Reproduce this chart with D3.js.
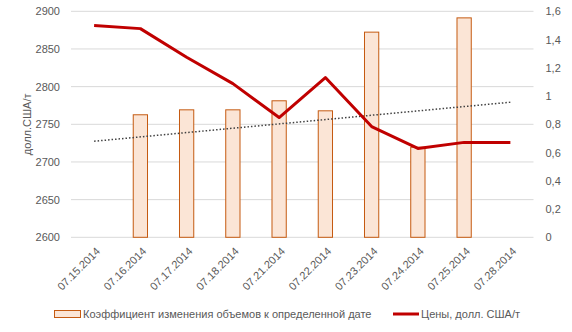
<!DOCTYPE html>
<html><head><meta charset="utf-8">
<script src="https://cdn.jsdelivr.net/npm/d3@7"></script>
<style>
body{margin:0;background:#fff;}
text{font-family:"Liberation Sans",Arial,sans-serif;fill:#595959;}
</style></head>
<body><svg id="c" width="572" height="332"></svg>
<script>
const categories = ["07.15.2014","07.16.2014","07.17.2014","07.18.2014","07.21.2014","07.22.2014","07.23.2014","07.24.2014","07.25.2014","07.28.2014"];
const coefValues = [null,0.871,0.906,0.906,0.970,0.899,1.456,0.641,1.557,null];
const priceValues = [2881,2877,2839,2804,2759,2812,2747,2718,2726,2726];
const trendValues = [2727.5,2779.3]; // dotted trend at first and last category
const leftTicks = [2600,2650,2700,2750,2800,2850,2900];
const rightTicks = [0,0.2,0.4,0.6,0.8,1,1.2,1.4,1.6];
const barLabel = "Коэффициент изменения объемов к определенной дате";
const lineLabel = "Цены, долл. США/т";
const yTitle = "долл.США/т";

const svg = d3.select("#c");
const L=71, R=533.5, T=11.3, B=237.3;
const x = d3.scaleBand().domain(categories).range([L,R]);
const yL = d3.scaleLinear().domain([2600,2900]).range([B,T]);
const yR = d3.scaleLinear().domain([0,1.6]).range([B,T]);

svg.append("g").selectAll("line").data(leftTicks).join("line")
  .attr("x1",L).attr("x2",R).attr("y1",d=>yL(d)).attr("y2",d=>yL(d))
  .attr("stroke","#D9D9D9").attr("stroke-width",1);

const axL = svg.append("g").attr("transform",`translate(${L},0)`)
  .call(d3.axisLeft(yL).tickValues(leftTicks).tickSize(0).tickPadding(11).tickFormat(d3.format("d")));
axL.select(".domain").remove();
axL.selectAll("text").style("font-size","11px").attr("fill","#595959");

const axR = svg.append("g").attr("transform",`translate(${R},0)`)
  .call(d3.axisRight(yR).tickValues(rightTicks).tickSize(0).tickPadding(12).tickFormat(d=>String(d).replace(".",",")));
axR.select(".domain").remove();
axR.selectAll("text").style("font-size","11px").attr("fill","#595959");

const bw = x.bandwidth()*0.33;
svg.append("g").selectAll("rect").data(categories.map((c,i)=>({c,v:coefValues[i]})).filter(d=>d.v!=null)).join("rect")
  .attr("x",d=>x(d.c)+x.bandwidth()/2-bw/2+0.5)
  .attr("width",bw-1)
  .attr("y",d=>yR(d.v)+0.5)
  .attr("height",d=>B-yR(d.v)-0.5)
  .attr("fill","#FBE5D6").attr("stroke","#C55A11").attr("stroke-width",1);

const cx = c=>x(c)+x.bandwidth()/2;
svg.append("line")
  .attr("x1",cx(categories[0])).attr("y1",yL(trendValues[0]))
  .attr("x2",cx(categories[categories.length-1])).attr("y2",yL(trendValues[1]))
  .attr("stroke","#404040").attr("stroke-width",1.5).attr("stroke-dasharray","1.5,2");

svg.append("path").datum(priceValues)
  .attr("d",d3.line().x((d,i)=>cx(categories[i])).y(d=>yL(d)))
  .attr("fill","none").attr("stroke","#C00000").attr("stroke-width",3).attr("stroke-linejoin","round");

svg.append("g").selectAll("text").data(categories).join("text")
  .attr("transform",d=>`translate(${cx(d)+4},${B+12}) rotate(-45)`)
  .attr("text-anchor","end").attr("dy","0.35em")
  .style("font-size","11px").text(d=>d);

svg.append("text").attr("transform",`translate(31,${(T+B)/2}) rotate(-90)`)
  .attr("text-anchor","middle").style("font-size","11px").text(yTitle);

svg.append("rect").attr("x",54.5).attr("y",310.5).attr("width",26).attr("height",7)
  .attr("fill","#FBE5D6").attr("stroke","#C55A11").attr("stroke-width",1);
svg.append("text").attr("x",83).attr("y",314).attr("dy","0.35em").style("font-size","11px").text(barLabel);
svg.append("line").attr("x1",393).attr("x2",419).attr("y1",314).attr("y2",314)
  .attr("stroke","#C00000").attr("stroke-width",3);
svg.append("text").attr("x",421).attr("y",314).attr("dy","0.35em").style("font-size","11px").text(lineLabel);
</script></body></html>
